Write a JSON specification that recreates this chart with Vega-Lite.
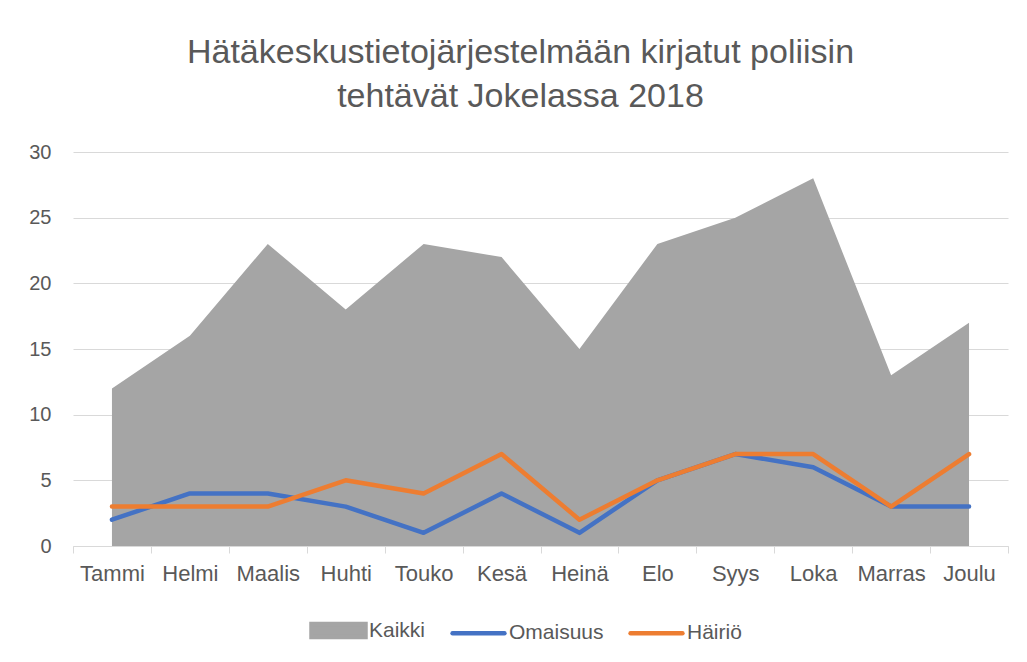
{
  "$schema": "https://vega.github.io/schema/vega-lite/v6.json",
  "width": 935,
  "height": 394,
  "autosize": {"type": "none"},
  "padding": {"left": 73, "top": 152, "right": 19, "bottom": 116},
  "background": "#ffffff",
  "title": {
    "text": ["Hätäkeskustietojärjestelmään kirjatut poliisin", "tehtävät Jokelassa 2018"],
    "font": "Liberation Sans",
    "fontSize": 34,
    "fontWeight": "normal",
    "color": "#595959",
    "lineHeight": 44,
    "anchor": "middle",
    "dx": -20,
    "offset": 28
  },
  "config": {
    "view": {"stroke": null},
    "font": "Liberation Sans"
  },
  "data": {
    "values": [
      {"kk": "Tammi", "sarja": "Kaikki", "arvo": 12},
      {"kk": "Helmi", "sarja": "Kaikki", "arvo": 16},
      {"kk": "Maalis", "sarja": "Kaikki", "arvo": 23},
      {"kk": "Huhti", "sarja": "Kaikki", "arvo": 18},
      {"kk": "Touko", "sarja": "Kaikki", "arvo": 23},
      {"kk": "Kesä", "sarja": "Kaikki", "arvo": 22},
      {"kk": "Heinä", "sarja": "Kaikki", "arvo": 15},
      {"kk": "Elo", "sarja": "Kaikki", "arvo": 23},
      {"kk": "Syys", "sarja": "Kaikki", "arvo": 25},
      {"kk": "Loka", "sarja": "Kaikki", "arvo": 28},
      {"kk": "Marras", "sarja": "Kaikki", "arvo": 13},
      {"kk": "Joulu", "sarja": "Kaikki", "arvo": 17},
      {"kk": "Tammi", "sarja": "Omaisuus", "arvo": 2},
      {"kk": "Helmi", "sarja": "Omaisuus", "arvo": 4},
      {"kk": "Maalis", "sarja": "Omaisuus", "arvo": 4},
      {"kk": "Huhti", "sarja": "Omaisuus", "arvo": 3},
      {"kk": "Touko", "sarja": "Omaisuus", "arvo": 1},
      {"kk": "Kesä", "sarja": "Omaisuus", "arvo": 4},
      {"kk": "Heinä", "sarja": "Omaisuus", "arvo": 1},
      {"kk": "Elo", "sarja": "Omaisuus", "arvo": 5},
      {"kk": "Syys", "sarja": "Omaisuus", "arvo": 7},
      {"kk": "Loka", "sarja": "Omaisuus", "arvo": 6},
      {"kk": "Marras", "sarja": "Omaisuus", "arvo": 3},
      {"kk": "Joulu", "sarja": "Omaisuus", "arvo": 3},
      {"kk": "Tammi", "sarja": "Häiriö", "arvo": 3},
      {"kk": "Helmi", "sarja": "Häiriö", "arvo": 3},
      {"kk": "Maalis", "sarja": "Häiriö", "arvo": 3},
      {"kk": "Huhti", "sarja": "Häiriö", "arvo": 5},
      {"kk": "Touko", "sarja": "Häiriö", "arvo": 4},
      {"kk": "Kesä", "sarja": "Häiriö", "arvo": 7},
      {"kk": "Heinä", "sarja": "Häiriö", "arvo": 2},
      {"kk": "Elo", "sarja": "Häiriö", "arvo": 5},
      {"kk": "Syys", "sarja": "Häiriö", "arvo": 7},
      {"kk": "Loka", "sarja": "Häiriö", "arvo": 7},
      {"kk": "Marras", "sarja": "Häiriö", "arvo": 3},
      {"kk": "Joulu", "sarja": "Häiriö", "arvo": 7}
    ]
  },
  "encoding": {
    "x": {
      "field": "kk",
      "type": "nominal",
      "sort": ["Tammi", "Helmi", "Maalis", "Huhti", "Touko", "Kesä", "Heinä", "Elo", "Syys", "Loka", "Marras", "Joulu"],
      "bandPosition": 0.5,
      "scale": {"type": "band", "paddingInner": 0, "paddingOuter": 0},
      "axis": {
        "title": null,
        "labelAngle": 0,
        "tickBand": "extent",
        "grid": false,
        "domainColor": "#d9d9d9",
        "domainWidth": 1,
        "tickColor": "#d9d9d9",
        "tickSize": 7,
        "labelFontSize": 22,
        "labelColor": "#595959",
        "labelPadding": 10
      }
    },
    "y": {
      "field": "arvo",
      "type": "quantitative",
      "stack": null,
      "scale": {"domain": [0, 30], "nice": false, "zero": true},
      "axis": {
        "title": null,
        "values": [0, 5, 10, 15, 20, 25, 30],
        "grid": true,
        "gridColor": "#d9d9d9",
        "gridWidth": 1,
        "domain": false,
        "ticks": false,
        "labelFontSize": 20,
        "labelColor": "#595959",
        "labelPadding": 22
      }
    },
    "color": {
      "field": "sarja",
      "type": "nominal",
      "scale": {"domain": ["Kaikki", "Omaisuus", "Häiriö"], "range": ["#a5a5a5", "#4472c4", "#ed7d31"]},
      "legend": {
        "title": null,
        "orient": "none",
        "direction": "horizontal",
        "legendX": 236,
        "legendY": 449,
        "padding": 0,
        "symbolSize": 2916,
        "symbolStrokeWidth": 0,
        "labelOffset": 1,
        "columnPadding": 17,
        "labelFontSize": 21,
        "labelColor": "#595959",
        "encode": {
          "symbols": {
            "update": {
              "shape": {"signal": "datum.value === 'Kaikki' ? 'M-1,-0.24H1V0.24H-1Z' : 'M-0.96,0H0.96'"},
              "fill": {"signal": "datum.value === 'Kaikki' ? '#a5a5a5' : 'transparent'"},
              "stroke": {"signal": "datum.value === 'Kaikki' ? 'transparent' : (datum.value === 'Omaisuus' ? '#4472c4' : '#ed7d31')"},
              "strokeWidth": {"value": 4.5},
              "strokeCap": {"value": "round"},
              "opacity": {"value": 1},
              "fillOpacity": {"value": 1},
              "strokeOpacity": {"value": 1}
            }
          }
        }
      }
    }
  },
  "layer": [
    {
      "transform": [{"filter": "datum.sarja === 'Kaikki'"}],
      "mark": {"type": "area", "opacity": 1, "fillOpacity": 1}
    },
    {
      "transform": [{"filter": "datum.sarja !== 'Kaikki'"}],
      "mark": {"type": "line", "strokeWidth": 4.5, "strokeCap": "round", "strokeJoin": "round"}
    }
  ]
}
